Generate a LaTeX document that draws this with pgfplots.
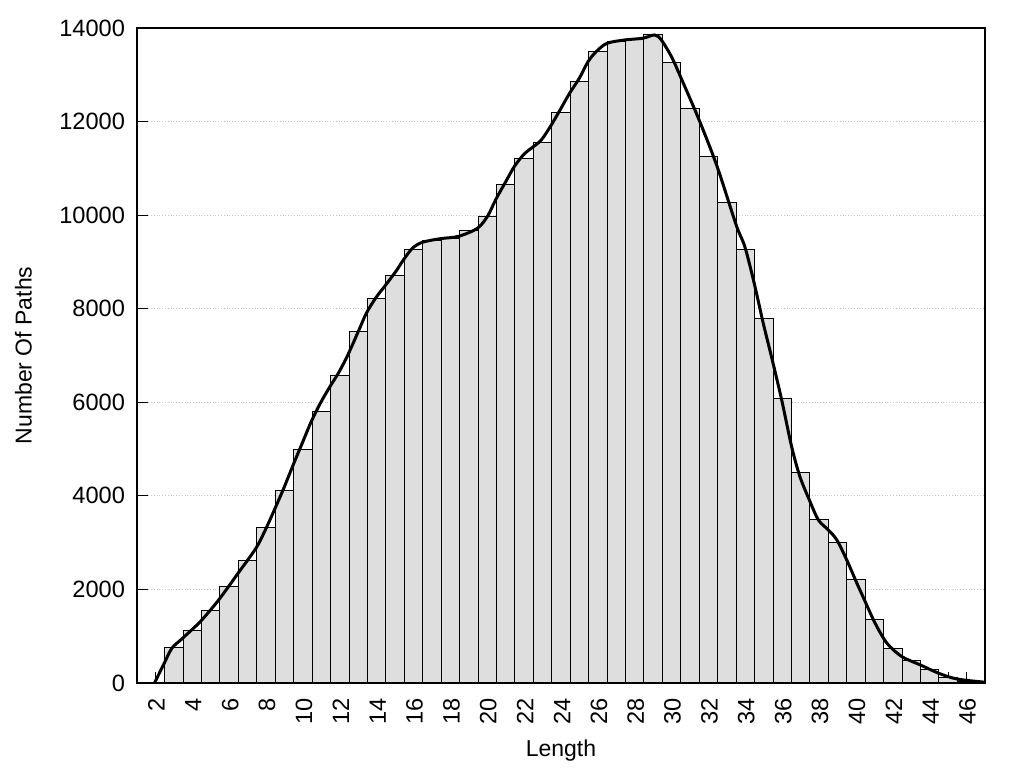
\documentclass[border=0pt]{standalone}
\usepackage{fontspec}
\setmainfont{Liberation Sans}
\usepackage{pgfplots}
\pgfplotsset{compat=1.18}
\begin{document}
\begin{tikzpicture}
\begin{axis}[
  scale only axis,
  width=424pt, height=327.5pt,
  xmin=1, xmax=47, ymin=0, ymax=14000,
  clip=false,
  axis line style={line width=0.6pt},
  xtick={2,4,...,46},
  minor xtick={1,3,...,47},
  ytick={0,2000,...,14000},
  xtick pos=bottom, ytick pos=left,
  tick align=inside,
  major tick length=5.5pt, minor tick length=5.5pt,
  every tick/.style={black, line width=0.5pt},
  scaled y ticks=false,
  /pgf/number format/assume math mode=true,
  every tick label/.append style={font=\fontsize{11.8}{13}\selectfont},
  x tick label style={rotate=90, anchor=east, xshift=-4pt, yshift=-0.5pt},
  y tick label style={xshift=-2.5pt, /pgf/number format/.cd, fixed, set thousands separator={}},
  ymajorgrids,
  grid style={densely dotted, gray!45, line width=0.4pt},
  xlabel={Length}, ylabel={Number Of Paths},
  label style={font=\fontsize{11.5}{13}\selectfont},
  xlabel style={at={(rel axis cs:0.5,-0.113)}, anchor=base},
  ylabel style={at={(rel axis cs:-0.134,0.5)}, anchor=center, rotate=0},
]
\path (rel axis cs:-0.1616,-0.1298) rectangle (rel axis cs:1.046,1.0427);
\addplot[ybar, bar width=1, bar shift=0, fill=black!13, draw=black, line width=0.5pt]
coordinates {
(3,750) (4,1125) (5,1550) (6,2065) (7,2620) (8,3325) (9,4115) (10,4990)
(11,5805) (12,6575) (13,7510) (14,8220) (15,8705) (16,9265) (17,9455)
(18,9495) (19,9665) (20,9975) (21,10660) (22,11215) (23,11555) (24,12195)
(25,12855) (26,13500) (27,13705) (28,13745) (29,13860) (30,13265)
(31,12285) (32,11255) (33,10275) (34,9270) (35,7795) (36,6085) (37,4505)
(38,3500) (39,3005) (40,2215) (41,1360) (42,740) (43,480) (44,295)
(45,115) (46,30)
};
\addplot[black, line width=1.5pt, smooth, tension=0.5, mark=none]
coordinates {
(1.95,0) (2.45,400) (2.89,741) (3.43,940) (4.43,1310) (5.43,1774)
(6.48,2344) (7.45,2879) (7.96,3270) (8.45,3698) (8.96,4161) (9.47,4660)
(9.96,5123) (10.45,5585) (10.96,5990) (11.46,6330) (11.95,6640)
(12.46,7030) (13.04,7545) (13.44,7902) (13.95,8230) (14.45,8486)
(15.03,8790) (15.45,9041) (15.94,9291) (16.48,9419) (17.48,9497)
(18.44,9545) (19.47,9719) (20.02,9980) (20.47,10340) (21.01,10720)
(21.47,11040) (22.01,11310) (22.46,11450) (22.92,11600) (23.42,11891)
(23.91,12220) (24.46,12600) (25.0,12930) (25.47,13281) (25.91,13494)
(26.5,13673) (27.48,13744) (28.44,13780) (29.08,13850) (29.44,13744)
(29.99,13387) (30.48,12959) (31.49,12034) (32.47,11036) (33.5,9790)
(33.97,9325) (34.48,8543) (34.97,7688) (35.46,6904) (35.97,6049)
(36.51,5051) (36.96,4410) (37.47,3911) (37.96,3484) (38.5,3270)
(38.96,3057) (39.5,2629) (40.05,2131) (40.5,1738) (41.04,1276)
(41.68,849) (42.49,562) (43.49,385) (44.48,207) (45.3,100) (46.0,55)
(47,15)
};
\end{axis}
\end{tikzpicture}
\end{document}
